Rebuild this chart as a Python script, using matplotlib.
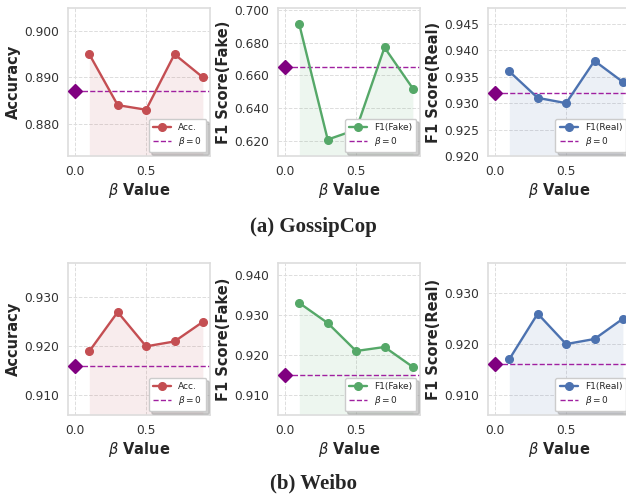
import matplotlib
matplotlib.use("Agg")
import matplotlib.pyplot as plt
import seaborn as sns
from matplotlib.ticker import MultipleLocator, FormatStrFormatter

sns.set_style("whitegrid")
plt.rcParams["font.family"] = ["DejaVu Sans"]

betas = [0.1, 0.3, 0.5, 0.7, 0.9]

# GossipCop
gc_acc = [0.895, 0.884, 0.883, 0.895, 0.890]
gc_f1_fake = [0.691, 0.621, 0.627, 0.677, 0.652]
gc_f1_real = [0.936, 0.931, 0.930, 0.938, 0.934]
gc_base = [0.887, 0.665, 0.932]

# Weibo
wb_acc = [0.919, 0.927, 0.920, 0.921, 0.925]
wb_f1_fake = [0.933, 0.928, 0.921, 0.922, 0.917]
wb_f1_real = [0.917, 0.926, 0.920, 0.921, 0.925]
wb_base = [0.916, 0.915, 0.916]

metric_labels = ["Accuracy", "F1 Score(Fake)", "F1 Score(Real)"]
legend_names = ["Acc.", "F1(Fake)", "F1(Real)"]
colors = ["#C44E52", "#55A868", "#4C72B0"]
base_color = "#A020A0"
tick_steps = [[0.01, 0.02, 0.005], [0.01, 0.01, 0.01]]

rows = [
    ([gc_acc, gc_f1_fake, gc_f1_real], gc_base, "(a) GossipCop"),
    ([wb_acc, wb_f1_fake, wb_f1_real], wb_base, "(b) Weibo"),
]

W, H = 626, 497
fig = plt.figure(figsize=(W / 100, H / 100), dpi=100)

lefts = [68, 278, 488]
row_boxes = [(8, 156), (263, 415)]  # top, bottom in pixels
caption_y = [227, 483]

for r, (series, bases, caption) in enumerate(rows):
    top, bot = row_boxes[r]
    for c in range(3):
        ax = fig.add_axes([lefts[c] / W, (H - bot) / H, 142 / W, (bot - top) / H])
        y = series[c]
        b = bases[c]
        lo = min(min(y), b) - 0.01
        hi = max(max(y), b) + 0.01
        ax.set_ylim(lo, hi)
        ax.set_xlim(-0.05, 0.95)
        ax.fill_between(betas, y, lo, color=colors[c], alpha=0.1, linewidth=0)
        ax.plot(betas, y, "-o", color=colors[c], lw=1.7, markersize=5.5,
                label=legend_names[c], zorder=3)
        ax.plot([0, 1.0], [b, b], "--", color=base_color, lw=1.0,
                label=r"$\beta = 0$", zorder=2)
        ax.plot([0], [b], "D", color="#800080", markersize=7, zorder=4, clip_on=False)
        ax.yaxis.set_major_locator(MultipleLocator(tick_steps[r][c]))
        ax.yaxis.set_major_formatter(FormatStrFormatter("%.3f"))
        ax.xaxis.set_major_locator(MultipleLocator(0.5))
        ax.xaxis.set_major_formatter(FormatStrFormatter("%.1f"))
        ax.tick_params(labelsize=8.8, colors="#333333", pad=3)
        ax.grid(True, linestyle="--", linewidth=0.7, color="#dddddd")
        for s in ax.spines.values():
            s.set_color("#dddddd")
            s.set_linewidth(1.2)
        ax.set_ylabel(metric_labels[c], fontsize=10.5, fontweight="bold", labelpad=2)
        ax.set_xlabel(r"$\beta$ Value", fontsize=10.5, fontweight="bold", labelpad=2)
        leg = ax.legend(loc="lower right", fontsize=6.5, frameon=True,
                        shadow={"color": "#999999", "alpha": 0.45},
                        fancybox=True, borderpad=0.45, labelspacing=0.35,
                        handlelength=2.0, handletextpad=0.8, borderaxespad=0.4)
        leg.get_frame().set_facecolor("white")
        leg.get_frame().set_edgecolor("#cccccc")
    fig.text(0.5, 1 - caption_y[r] / H, caption, ha="center", va="center",
             fontsize=15, fontweight="bold", family="Liberation Serif")

fig.savefig("out.png", dpi=100)
